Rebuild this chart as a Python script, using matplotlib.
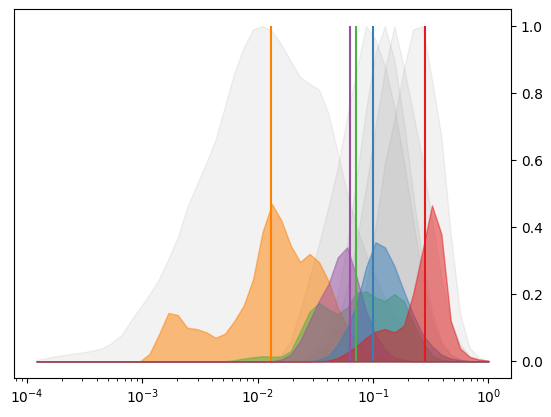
import numpy as np
import matplotlib
matplotlib.use("Agg")
import matplotlib.pyplot as plt

# bin positions (log spaced, 49 points)
x = np.logspace(-4, 0, 50)[1:]

# grey reference distributions (normalised to peak 1)
grey_orange = [0.004, 0.009, 0.015, 0.019, 0.023, 0.027, 0.032, 0.039, 0.055, 0.078,
               0.12, 0.16, 0.2, 0.245, 0.305, 0.37, 0.46, 0.525, 0.59, 0.66,
               0.76, 0.86, 0.936, 0.99, 1.0, 0.985, 0.945, 0.895, 0.848, 0.828,
               0.81, 0.74, 0.62, 0.5, 0.4, 0.32, 0.25, 0.19, 0.14, 0.1,
               0.07, 0.045, 0.028, 0.016, 0.008, 0.004, 0.002, 0.001, 0.0]
grey_a = [0]*25 + [0.0, 0.02, 0.06, 0.15, 0.25, 0.35, 0.46, 0.58, 0.73, 0.87,
                   1.0, 0.96, 0.88, 0.76, 0.6, 0.42, 0.25, 0.12, 0.05, 0.02,
                   0.005, 0.0, 0.0, 0.0]
grey_b = [0]*28 + [0.0, 0.02, 0.05, 0.1, 0.2, 0.35, 0.55, 0.75, 0.92, 1.0,
                   0.9, 0.72, 0.5, 0.3, 0.15, 0.06, 0.02, 0.005, 0.0, 0.0, 0.0]
grey_c = [0]*29 + [0.01, 0.03, 0.06, 0.12, 0.22, 0.36, 0.52, 0.7, 0.87, 1.0,
                   0.88, 0.74, 0.6, 0.42, 0.25, 0.12, 0.05, 0.015, 0.005, 0.0]
grey_d = [0]*33 + [0.03, 0.1, 0.22, 0.4, 0.59, 0.72, 0.87, 0.99, 1.0, 0.84,
                   0.67, 0.38, 0.14, 0.04, 0.01, 0.0]
greys = [grey_orange, grey_a, grey_b, grey_c, grey_d]

# coloured distributions
orange = [0]*12 + [0.022, 0.08, 0.144, 0.138, 0.10, 0.096, 0.087, 0.07, 0.082, 0.12,
                   0.166, 0.245, 0.385, 0.469, 0.42, 0.345, 0.296, 0.32, 0.296, 0.24,
                   0.16, 0.1, 0.055, 0.03, 0.015, 0.007, 0.003] + [0]*10
green = [0]*21 + [0.003, 0.008, 0.012, 0.015, 0.014, 0.014, 0.03, 0.088, 0.148, 0.174,
                  0.155, 0.14, 0.16, 0.205, 0.208, 0.19, 0.18, 0.2, 0.18, 0.115,
                  0.06, 0.016, 0.005] + [0]*5
purple = [0]*26 + [0.005, 0.02, 0.06, 0.12, 0.18, 0.23, 0.31, 0.34, 0.25, 0.15,
                   0.08, 0.035, 0.012, 0.004] + [0]*9
blue = [0]*30 + [0.005, 0.015, 0.05, 0.1, 0.17, 0.28, 0.355, 0.34, 0.285, 0.21,
                 0.14, 0.08, 0.045, 0.02, 0.008, 0.003, 0.0, 0.0, 0.0]
red = [0]*31 + [0.002, 0.01, 0.025, 0.045, 0.07, 0.088, 0.096, 0.086, 0.105, 0.2,
                0.33, 0.465, 0.38, 0.12, 0.038, 0.013, 0.005, 0.002]

series = [(orange, '#ff7f00'), (green, '#4daf4a'), (purple, '#984ea3'),
          (blue, '#377eb8'), (red, '#e41a1c')]

# marker lines
line_pos = [0.0131, 0.0636, 0.0716, 0.1, 0.284]
line_col = ['#ff7f00', '#984ea3', '#4daf4a', '#377eb8', '#e41a1c']

fig = plt.figure(figsize=(5.51, 4.17), dpi=100)
ax = fig.add_axes([14/551, 39/417, 497/551, 368.7/417])

for g in greys:
    ax.fill_between(x, g, color='grey', alpha=0.1)

for vals, c in series:
    ax.fill_between(x, vals, color=c, alpha=0.5)

ax.vlines(line_pos, 0, 1, colors=line_col, lw=1.5)

ax.set_xscale('log')
ax.yaxis.tick_right()
ax.set_yticks([0.0, 0.2, 0.4, 0.6, 0.8, 1.0])

fig.savefig('out.png', dpi=100)
